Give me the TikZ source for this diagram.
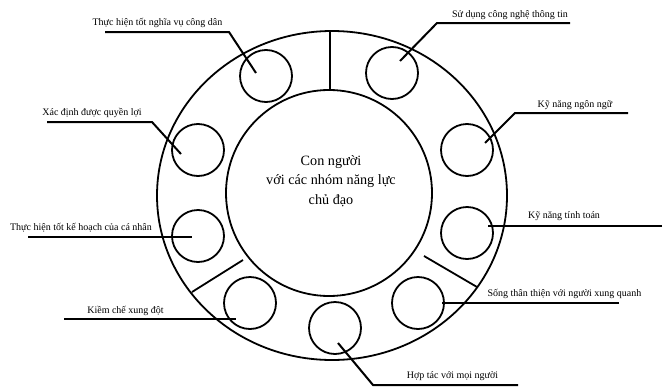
\documentclass[tikz,border=0pt]{standalone}
\usepackage{fontspec}
\setmainfont{Liberation Serif}
\begin{document}
\begin{tikzpicture}[x=1pt,y=-1pt,
  ring/.style={draw=black,line width=1.8pt},
  bub/.style={circle,draw=black,line width=1.8pt,minimum size=52pt,inner sep=0pt},
  lead/.style={draw=black,line width=2pt},
  lbl/.style={anchor=base,font=\fontsize{10pt}{12pt}\selectfont,inner sep=0pt},
  ctext/.style={align=center,font=\fontsize{14.2pt}{19.5pt}\selectfont,inner sep=0pt}]
\useasboundingbox (0,0) rectangle (671,388);
% rings
\draw[ring] (332,195.5) ellipse [x radius=175, y radius=164.5];
\node[circle,draw=black,line width=1.8pt,minimum size=206pt,inner sep=0pt] (inner) at (329,193) {};
\node[ctext] (center) at (331,181) {Con người\\với các nhóm năng lực\\chủ đạo};
% dividers
\coordinate (d1a) at (330,31.5); \coordinate (d1b) at (330,90);
\coordinate (d2a) at (192,292); \coordinate (d2b) at (243,260);
\coordinate (d3a) at (424,256); \coordinate (d3b) at (477,287);
\draw[ring] (d1a) -- (d1b);
\draw[ring] (d2a) -- (d2b);
\draw[ring] (d3a) -- (d3b);
% bubbles
\node[bub] (c1) at (266,76) {};
\node[bub] (c2) at (392,73) {};
\node[bub] (c3) at (198,150) {};
\node[bub] (c4) at (198,236) {};
\node[bub] (c5) at (467,150) {};
\node[bub] (c6) at (467,233) {};
\node[bub] (c7) at (250,303) {};
\node[bub] (c8) at (335,328) {};
\node[bub] (c9) at (418,303) {};
% leader end points
\coordinate (e1) at (105,32); \coordinate (k1) at (229,32); \coordinate (p1) at (256,73);
\coordinate (e2) at (570,23); \coordinate (k2) at (437,23); \coordinate (p2) at (400,61);
\coordinate (e3) at (628,113); \coordinate (k3) at (515,113); \coordinate (p3) at (485,143);
\coordinate (e4) at (47,122); \coordinate (k4) at (152,122); \coordinate (p4) at (181,154);
\coordinate (e5) at (28,237); \coordinate (p5) at (192,237);
\coordinate (e6) at (662,226); \coordinate (p6) at (488,226);
\coordinate (e7) at (64,319); \coordinate (p7) at (236,319);
\coordinate (e8) at (619,303); \coordinate (p8) at (442,303);
\coordinate (e9) at (518,385); \coordinate (k9) at (373,385); \coordinate (p9) at (338,343);
\draw[lead] (e1) -- (k1) -- (p1);
\draw[lead] (e2) -- (k2) -- (p2);
\draw[lead] (e3) -- (k3) -- (p3);
\draw[lead] (e4) -- (k4) -- (p4);
\draw[lead] (e5) -- (p5);
\draw[lead] (e6) -- (p6);
\draw[lead] (e7) -- (p7);
\draw[lead] (e8) -- (p8);
\draw[lead] (e9) -- (k9) -- (p9);
% labels
\node[lbl] (t1) at (157.5,25) {Thực hiện tốt nghĩa vụ công dân};
\node[lbl] (t2) at (510,17) {Sử dụng công nghệ thông tin};
\node[lbl] (t3) at (575,107) {Kỹ năng ngôn ngữ};
\node[lbl] (t4) at (92,115) {Xác định được quyền lợi};
\node[lbl] (t5) at (81,230) {Thực hiện tốt kế hoạch của cá nhân};
\node[lbl] (t6) at (564,218) {Kỹ năng tính toán};
\node[lbl] (t7) at (125.5,313) {Kiềm chế xung đột};
\node[lbl] (t8) at (564.5,296) {Sống thân thiện với người xung quanh};
\node[lbl] (t9) at (452.5,378) {Hợp tác với mọi người};
\end{tikzpicture}
\end{document}
